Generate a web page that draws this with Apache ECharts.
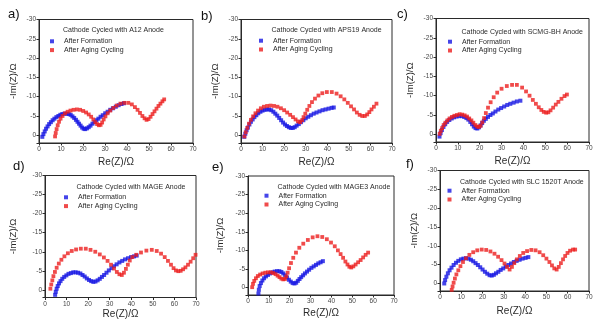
<!DOCTYPE html>
<html>
<head>
<meta charset="utf-8">
<script src="https://cdn.jsdelivr.net/npm/echarts@6/dist/echarts.min.js"></script>
<style>
  html, body { margin: 0; padding: 0; background: #fff; }
  #chart { width: 600px; height: 325px; }
</style>
</head>
<body>
<div id="chart"></div>
<script>
// Nyquist plots: cathode impedance after formation vs. after aging cycling, six anodes.
const panelLetters = ['a)', 'b)', 'c)', 'd)', 'e)', 'f)'];
const anodeTitles = [
  'Cathode Cycled with A12 Anode',
  'Cathode Cycled with APS19 Anode',
  'Cathode Cycled with SCMG-BH Anode',
  'Cathode Cycled with MAGE Anode',
  'Cathode Cycled with MAGE3 Anode',
  'Cathode Cycled with SLC 1520T Anode'
];
const seriesNames = ['After Formation', 'After Aging Cycling'];
const xName = 'Re(Z)/\u03A9';
const yName = '-Im(Z)/\u03A9';
const xMin = 0, xMax = 70, xStep = 10;
const yMin = -30, yMax = 2, yStep = 5;

// [Re(Z), Im(Z)] pairs in ohm
const formationA = [[1.5,0.4],[2.0,-0.3],[2.6,-1.0],[3.2,-1.7],[3.9,-2.3],[4.6,-2.9],[5.4,-3.4],[6.2,-3.9],[7.0,-4.3],[7.9,-4.7],[8.8,-5.0],[9.7,-5.3],[10.6,-5.5],[11.6,-5.6],[12.6,-5.6],[13.5,-5.5],[14.4,-5.3],[15.2,-4.9],[16.0,-4.5],[16.8,-4.0],[17.5,-3.5],[18.2,-3.0],[18.9,-2.5],[19.6,-2.0],[20.3,-1.7],[21.0,-1.6],[21.8,-1.8],[22.6,-2.1],[23.4,-2.5],[24.3,-3.0],[25.2,-3.4],[26.1,-3.9],[27.0,-4.3],[28.0,-4.8],[29.0,-5.2],[30.1,-5.7],[31.2,-6.1],[32.4,-6.6],[33.6,-7.0],[34.9,-7.4],[36.2,-7.8],[37.5,-8.1],[38.6,-8.3]];
const agingA = [[7.3,0.3],[7.6,-0.6],[8.0,-1.6],[8.5,-2.6],[9.1,-3.5],[9.8,-4.3],[10.7,-5.0],[11.8,-5.7],[13.0,-6.1],[14.3,-6.4],[15.7,-6.6],[17.2,-6.7],[18.7,-6.6],[20.1,-6.3],[21.4,-5.9],[22.6,-5.4],[23.7,-4.8],[24.7,-4.1],[25.6,-3.4],[26.4,-2.9],[27.2,-2.6],[28.0,-2.7],[28.7,-3.3],[29.4,-4.1],[30.2,-4.9],[31.2,-5.7],[32.4,-6.4],[33.8,-7.1],[35.3,-7.7],[37.0,-8.2],[38.8,-8.4],[40.6,-8.4],[42.2,-8.0],[43.6,-7.3],[44.8,-6.6],[45.9,-5.8],[47.0,-5.0],[48.0,-4.4],[48.9,-4.0],[49.8,-4.2],[50.7,-4.8],[51.6,-5.5],[52.5,-6.2],[53.4,-6.9],[54.3,-7.6],[55.2,-8.2],[56.1,-8.8],[56.9,-9.3]];

const formationB = [[1.5,0.4],[2.0,-0.4],[2.6,-1.3],[3.2,-2.0],[3.9,-2.8],[4.6,-3.5],[5.4,-4.1],[6.2,-4.7],[7.1,-5.2],[8.0,-5.7],[9.0,-6.1],[10.0,-6.4],[11.0,-6.6],[12.0,-6.7],[13.0,-6.7],[14.0,-6.5],[15.0,-6.1],[15.9,-5.6],[16.8,-5.1],[17.7,-4.5],[18.6,-3.9],[19.5,-3.3],[20.4,-2.8],[21.3,-2.4],[22.2,-2.1],[23.1,-1.9],[24.0,-1.9],[24.9,-2.1],[25.8,-2.5],[26.8,-2.9],[27.8,-3.4],[28.9,-3.9],[30.0,-4.4],[31.2,-4.8],[32.4,-5.2],[33.7,-5.6],[35.0,-5.9],[36.4,-6.2],[37.8,-6.5],[39.2,-6.7],[40.6,-6.9],[42.0,-7.1],[43.0,-7.2]];
const agingB = [[1.6,0.3],[2.2,-0.8],[2.9,-1.9],[3.7,-3.0],[4.6,-4.0],[5.6,-4.9],[6.7,-5.7],[7.9,-6.4],[9.2,-7.0],[10.6,-7.4],[12.1,-7.6],[13.7,-7.7],[15.3,-7.6],[16.9,-7.4],[18.5,-7.0],[20.0,-6.5],[21.4,-5.9],[22.8,-5.3],[24.1,-4.7],[25.3,-4.1],[26.4,-3.6],[27.4,-3.4],[28.3,-3.9],[29.0,-4.7],[29.8,-5.6],[30.7,-6.6],[31.7,-7.6],[32.9,-8.6],[34.3,-9.5],[35.9,-10.3],[37.7,-10.9],[39.8,-11.2],[42.1,-11.2],[44.3,-10.8],[46.2,-10.1],[47.9,-9.3],[49.5,-8.4],[51.0,-7.5],[52.4,-6.7],[53.7,-5.9],[55.0,-5.3],[56.2,-5.0],[57.4,-5.0],[58.5,-5.4],[59.5,-6.0],[60.5,-6.7],[61.6,-7.4],[62.8,-8.2]];

const formationC = [[1.6,0.6],[2.1,-0.3],[2.7,-1.1],[3.4,-1.9],[4.2,-2.6],[5.1,-3.2],[6.1,-3.7],[7.2,-4.1],[8.3,-4.4],[9.4,-4.6],[10.6,-4.7],[11.8,-4.7],[12.9,-4.5],[13.9,-4.2],[14.8,-3.8],[15.7,-3.2],[16.5,-2.6],[17.3,-2.0],[18.1,-1.6],[18.9,-1.5],[19.7,-1.8],[20.4,-2.3],[21.1,-2.9],[21.9,-3.5],[22.8,-4.0],[23.8,-4.5],[24.9,-5.0],[26.0,-5.4],[27.2,-5.9],[28.5,-6.4],[29.8,-6.8],[31.2,-7.2],[32.6,-7.6],[34.0,-7.9],[35.5,-8.2],[37.0,-8.5],[38.6,-8.7]];
const agingC = [[1.7,-0.1],[2.2,-0.9],[2.8,-1.6],[3.5,-2.4],[4.3,-3.0],[5.2,-3.6],[6.2,-4.1],[7.3,-4.5],[8.4,-4.8],[9.6,-5.0],[10.8,-5.2],[12.0,-5.1],[13.1,-4.9],[14.2,-4.6],[15.2,-4.1],[16.2,-3.6],[17.1,-3.0],[18.0,-2.4],[18.8,-2.0],[19.6,-1.9],[20.4,-2.2],[21.2,-3.1],[22.0,-4.2],[22.8,-5.5],[23.8,-6.9],[25.0,-8.3],[26.4,-9.6],[28.0,-10.8],[30.0,-11.8],[32.4,-12.5],[34.8,-12.8],[37.0,-12.8],[39.4,-12.1],[41.2,-11.1],[42.8,-10.0],[44.3,-8.9],[45.7,-7.9],[47.0,-7.0],[48.2,-6.3],[49.3,-5.8],[50.4,-5.6],[51.4,-5.7],[52.4,-6.2],[53.6,-6.9],[54.8,-7.7],[56.0,-8.4],[57.4,-9.2],[58.8,-9.9],[59.9,-10.3]];

const formationD = [[4.7,1.3],[5.0,0.5],[5.4,-0.3],[5.9,-1.0],[6.5,-1.7],[7.2,-2.3],[8.0,-2.9],[8.9,-3.4],[9.9,-3.8],[10.9,-4.2],[12.0,-4.4],[13.1,-4.6],[14.2,-4.6],[15.3,-4.5],[16.4,-4.3],[17.4,-3.9],[18.4,-3.5],[19.4,-3.0],[20.4,-2.6],[21.4,-2.3],[22.4,-2.1],[23.4,-2.2],[24.4,-2.5],[25.4,-2.9],[26.4,-3.4],[27.4,-3.9],[28.5,-4.5],[29.6,-5.1],[30.8,-5.7],[32.0,-6.2],[33.2,-6.7],[34.5,-7.2],[35.8,-7.6],[37.1,-8.0],[38.5,-8.3],[39.9,-8.6],[41.3,-8.8],[42.5,-9.0]];
const agingD = [[2.5,-0.3],[2.9,-1.4],[3.4,-2.5],[3.9,-3.6],[4.6,-4.7],[5.4,-5.8],[6.4,-6.9],[7.6,-7.9],[9.0,-8.8],[10.6,-9.6],[12.4,-10.2],[14.4,-10.6],[16.6,-10.8],[18.9,-10.8],[21.1,-10.5],[23.3,-10.0],[25.4,-9.3],[27.3,-8.5],[29.0,-7.6],[30.6,-6.6],[32.0,-5.6],[33.3,-4.7],[34.5,-4.1],[35.6,-3.9],[36.6,-4.5],[37.5,-5.5],[38.4,-6.6],[39.3,-7.7],[40.5,-8.6],[42.3,-9.2],[44.5,-9.8],[47.0,-10.3],[49.5,-10.5],[51.8,-10.2],[53.8,-9.5],[55.5,-8.6],[57.0,-7.6],[58.4,-6.6],[59.6,-5.7],[60.7,-5.1],[61.8,-4.9],[62.9,-5.0],[64.0,-5.4],[65.1,-5.9],[66.3,-6.6],[67.5,-7.4],[68.7,-8.3],[69.8,-9.2]];

const formationE = [[5.0,1.6],[5.2,0.6],[5.6,-0.4],[6.2,-1.2],[6.9,-1.9],[7.7,-2.5],[8.6,-3.0],[9.6,-3.4],[10.6,-3.8],[11.7,-4.1],[12.8,-4.3],[13.9,-4.4],[15.0,-4.4],[16.0,-4.2],[16.9,-3.8],[17.8,-3.3],[18.7,-2.7],[19.6,-2.1],[20.5,-1.6],[21.4,-1.2],[22.3,-1.1],[23.1,-1.3],[23.9,-1.8],[24.7,-2.3],[25.5,-2.8],[26.4,-3.3],[27.3,-3.8],[28.3,-4.3],[29.3,-4.8],[30.4,-5.3],[31.5,-5.7],[32.6,-6.1],[33.7,-6.5],[34.8,-6.8],[35.9,-7.1]];
const agingE = [[2.0,-0.1],[2.4,-1.0],[3.0,-1.8],[3.8,-2.5],[4.7,-3.1],[5.8,-3.5],[7.0,-3.8],[8.3,-4.0],[9.6,-4.1],[10.9,-4.1],[12.1,-3.9],[13.2,-3.6],[14.2,-3.2],[15.1,-2.8],[16.0,-2.4],[16.9,-2.2],[17.7,-2.3],[18.4,-3.0],[19.0,-4.0],[19.7,-5.2],[20.6,-6.6],[21.7,-8.0],[23.0,-9.4],[24.6,-10.7],[26.5,-11.8],[28.7,-12.8],[31.0,-13.5],[33.3,-13.8],[35.6,-13.6],[37.8,-13.0],[39.8,-12.1],[41.6,-11.1],[43.1,-10.0],[44.4,-9.0],[45.6,-8.0],[46.7,-7.0],[47.7,-6.2],[48.6,-5.6],[49.5,-5.4],[50.5,-5.7],[51.6,-6.2],[52.8,-6.8],[54.0,-7.4],[55.2,-8.1],[56.4,-8.8],[57.6,-9.4]];

const formationF = [[2.0,0.0],[2.4,-0.9],[3.0,-1.8],[3.7,-2.7],[4.5,-3.5],[5.4,-4.2],[6.4,-4.9],[7.5,-5.5],[8.6,-6.0],[9.8,-6.4],[11.0,-6.6],[12.2,-6.7],[13.4,-6.6],[14.5,-6.3],[15.6,-5.9],[16.7,-5.4],[17.8,-4.9],[18.9,-4.3],[20.0,-3.7],[21.1,-3.1],[22.2,-2.6],[23.3,-2.2],[24.3,-2.1],[25.3,-2.3],[26.3,-2.7],[27.4,-3.1],[28.5,-3.6],[29.7,-4.0],[30.9,-4.5],[32.1,-4.9],[33.4,-5.3],[34.7,-5.7],[36.0,-6.0],[37.4,-6.3],[38.8,-6.6],[40.2,-6.8],[41.5,-7.0]];
const agingF = [[5.5,1.7],[5.9,0.8],[6.4,-0.2],[7.0,-1.3],[7.7,-2.4],[8.6,-3.5],[9.6,-4.6],[10.8,-5.7],[12.2,-6.7],[13.8,-7.6],[15.6,-8.3],[17.5,-8.8],[19.6,-9.0],[21.7,-8.9],[23.7,-8.5],[25.6,-7.9],[27.3,-7.1],[28.9,-6.2],[30.3,-5.3],[31.5,-4.4],[32.7,-3.7],[33.8,-4.4],[34.9,-5.4],[36.1,-6.4],[37.5,-7.3],[39.1,-8.1],[40.9,-8.6],[42.9,-8.9],[44.9,-8.8],[46.8,-8.3],[48.5,-7.5],[50.0,-6.6],[51.4,-5.7],[52.6,-4.8],[53.7,-4.0],[54.8,-3.7],[55.8,-4.4],[56.8,-5.4],[57.8,-6.4],[58.8,-7.3],[59.9,-8.1],[61.1,-8.7],[62.5,-9.0],[63.5,-9.0]];

const formationSets = [formationA, formationB, formationC, formationD, formationE, formationF];
const agingSets = [agingA, agingB, agingC, agingD, agingE, agingF];

// panel layout
const grids = [
  { left: 39,  top: 19.5,  width: 154, height: 123.5 },
  { left: 241, top: 19.5,  width: 151, height: 123.5 },
  { left: 436, top: 18.5,  width: 153, height: 123.5 },
  { left: 45,  top: 175.5, width: 151, height: 122 },
  { left: 248, top: 176,   width: 146, height: 119 },
  { left: 440, top: 170.5, width: 149, height: 120.5 }
];
const yNameGaps = [21, 21, 21, 27, 23, 21];
const xNameGaps = [14, 14, 14, 12, 13, 15];
const letterPos = [[8, 8], [201, 10], [397, 8], [13, 160], [212, 161], [406, 158]];
const titlePos = [[63, 26.5], [271.5, 27], [461.5, 29], [76.5, 184], [277.5, 183.5], [460, 179]];
const legendPos = [[50, 37.8], [259, 37.2], [448, 38.2], [64, 193.8], [264.5, 192.2], [447.5, 187.2]];

const BLUE = '#1717e3';
const RED = '#ec1e1e';
const INK = '#2a2a2a';
const FONT = '"Liberation Sans", Arial, sans-serif';

const option = {
  backgroundColor: '#ffffff',
  animation: false,
  textStyle: { fontFamily: FONT },
  title: [],
  legend: [],
  grid: [],
  xAxis: [],
  yAxis: [],
  series: []
};

grids.forEach((g, i) => {
  option.grid.push(Object.assign({ show: true, borderColor: INK, borderWidth: 1, backgroundColor: 'transparent' }, g));

  option.xAxis.push({
    type: 'value', gridIndex: i, min: xMin, max: xMax, interval: xStep,
    name: xName, nameLocation: 'middle', nameGap: xNameGaps[i],
    nameTextStyle: { fontSize: 10, color: INK, fontFamily: FONT },
    axisLine: { show: true, onZero: false, lineStyle: { color: INK, width: 1 } },
    axisTick: { show: true, length: 2.5, lineStyle: { color: INK } },
    axisLabel: { fontSize: 6.5, color: '#444', margin: 3, fontFamily: FONT },
    splitLine: { show: false }
  });

  option.yAxis.push({
    type: 'value', gridIndex: i, min: yMin, max: yMax, interval: yStep, inverse: true,
    name: yName, nameLocation: 'middle', nameGap: yNameGaps[i], nameRotate: 90,
    nameTextStyle: { fontSize: 9.5, color: INK, fontFamily: FONT },
    axisLine: { show: true, onZero: false, lineStyle: { color: INK, width: 1 } },
    axisTick: { show: true, length: 2.5, lineStyle: { color: INK } },
    axisLabel: {
      fontSize: 6.5, color: '#444', margin: 3, fontFamily: FONT,
      formatter: v => (v % yStep === 0 ? String(v) : '')
    },
    splitLine: { show: false }
  });

  option.title.push({
    text: panelLetters[i], left: letterPos[i][0], top: letterPos[i][1], padding: 0,
    textStyle: { fontSize: 13, fontWeight: 'normal', color: '#111', fontFamily: FONT }
  });
  option.title.push({
    text: anodeTitles[i], left: titlePos[i][0], top: titlePos[i][1], padding: 0,
    textStyle: { fontSize: 7, fontWeight: 'normal', color: INK, fontFamily: FONT }
  });

  option.legend.push({
    left: legendPos[i][0], top: legendPos[i][1], orient: 'vertical', padding: 0,
    itemWidth: 4, itemHeight: 4, itemGap: 1.8, selectedMode: false,
    data: seriesNames.map(n => ({ name: n, icon: 'rect' })),
    textStyle: { fontSize: 7, color: INK, fontFamily: FONT, padding: [0, 0, 0, 5] }
  });

  option.series.push({
    name: seriesNames[0], type: 'scatter', xAxisIndex: i, yAxisIndex: i,
    symbol: 'rect', symbolSize: 4, itemStyle: { color: BLUE }, data: formationSets[i]
  });
  option.series.push({
    name: seriesNames[1], type: 'scatter', xAxisIndex: i, yAxisIndex: i,
    symbol: 'rect', symbolSize: 3.8, itemStyle: { color: RED }, data: agingSets[i]
  });
});

const chart = echarts.init(document.getElementById('chart'), null, { renderer: 'canvas' });
chart.setOption(option);
</script>
</body>
</html>
